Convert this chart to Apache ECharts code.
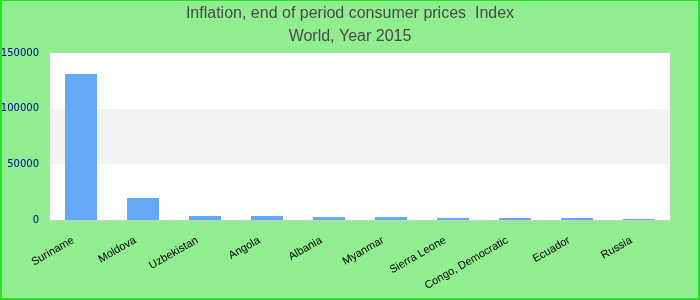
<!DOCTYPE html>
<html>
<head>
<meta charset="utf-8">
<script src="https://cdn.jsdelivr.net/npm/echarts@6/dist/echarts.min.js"></script>
<style>
html,body{margin:0;padding:0;background:#90ee90;}
#wrap{position:relative;width:700px;height:300px;}
#chart{width:700px;height:300px;}
#frame{position:absolute;left:0;top:0;width:700px;height:300px;box-sizing:border-box;border:2px solid #22e622;border-top-width:1px;pointer-events:none;}
</style>
</head>
<body>
<div id="wrap"><div id="chart"></div><div id="frame"></div></div>
<script>
var titleLines = ["Inflation, end of period consumer prices  Index", "World, Year 2015"];
var categories = ["Suriname", "Moldova", "Uzbekistan", "Angola", "Albania", "Myanmar", "Sierra Leone", "Congo, Democratic", "Ecuador", "Russia"];
var values = [131200, 19800, 3600, 3600, 2700, 2700, 1900, 1800, 1800, 900];
var yTicks = [0, 50000, 100000, 150000];

var chart = echarts.init(document.getElementById('chart'), null, {renderer: 'canvas'});
chart.setOption({
  backgroundColor: '#90ee90',
  animation: false,
  title: {
    text: titleLines.join('\n'),
    left: 'center',
    top: 2,
    padding: 0,
    textStyle: {
      color: '#4a4a4a',
      fontFamily: 'Liberation Sans, Arial, sans-serif',
      fontSize: 16,
      fontWeight: 'normal',
      lineHeight: 23
    }
  },
  grid: {
    left: 50, right: 30, top: 53, bottom: 80,
    containLabel: false,
    outerBoundsMode: 'none',
    show: true, borderColor: '#cccccc', borderWidth: 1, backgroundColor: '#ffffff'
  },
  xAxis: {
    type: 'category',
    data: categories,
    axisLine: {show: true, lineStyle: {color: '#cccccc'}},
    axisTick: {show: false},
    axisLabel: {
      interval: 0,
      rotate: 30,
      margin: 15,
      padding: [0, 9, 0, 0],
      color: '#000000',
      fontFamily: 'Liberation Sans, Arial, sans-serif',
      fontSize: 11
    }
  },
  yAxis: {
    type: 'value',
    min: yTicks[0],
    max: yTicks[yTicks.length - 1],
    interval: 50000,
    axisLine: {show: false},
    axisTick: {show: false},
    splitLine: {show: false},
    splitArea: {show: true, areaStyle: {color: ['#ffffff', '#f3f3f3']}},
    axisLabel: {
      margin: 11,
      color: '#00008b',
      fontFamily: 'DejaVu Sans, sans-serif',
      fontSize: 10,
      formatter: function (v) { return String(v); }
    }
  },
  series: [{
    type: 'bar',
    data: values,
    barWidth: 32,
    itemStyle: {color: '#63a9f5'}
  }]
});
</script>
</body>
</html>
